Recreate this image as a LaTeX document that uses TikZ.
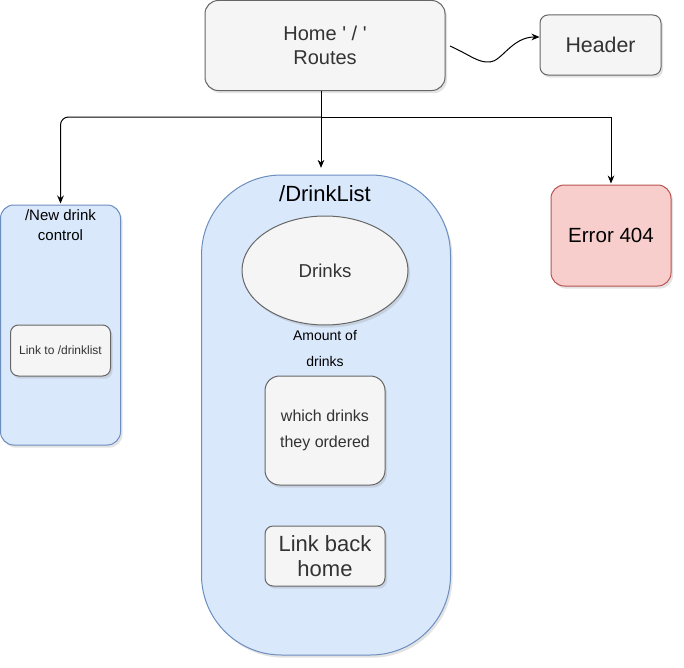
\documentclass[tikz,border=0pt]{standalone}
\usepackage{fontspec}
\setmainfont{Liberation Sans}
\usetikzlibrary{arrows.meta,shapes.geometric,shadows}

\definecolor{greyfill}{HTML}{F5F5F5}
\definecolor{greyline}{HTML}{666666}
\definecolor{greytext}{HTML}{333333}
\definecolor{bluefill}{HTML}{DAE8FC}
\definecolor{blueline}{HTML}{6C8EBF}
\definecolor{redfill}{HTML}{F8CECC}
\definecolor{redline}{HTML}{B85450}

\begin{document}
\begin{tikzpicture}[
    x=0.75pt, y=-0.75pt,
    box/.style={draw, line width=0.75pt, align=center, inner sep=0pt,
                drop shadow={shadow xshift=1.5pt, shadow yshift=-2pt,
                             opacity=0.22}},
    greybox/.style={box, draw=greyline, fill=greyfill, text=greytext},
    bluebox/.style={box, draw=blueline, fill=bluefill},
    redbox/.style={box, draw=redline, fill=redfill},
    caption/.style={align=center, inner sep=0pt},
    link/.style={-{Stealth[length=6pt, width=5pt]}, line width=0.75pt},
]
\useasboundingbox (0,0) rectangle (684,667);

% Top row
\node[greybox, minimum width=180pt, minimum height=67.5pt,
      rounded corners=10pt, font=\fontsize{15}{18}\selectfont]
      (home) at (325,45.5) {Home \textquotesingle\ / \textquotesingle\\Routes};
\node[greybox, minimum width=90.75pt, minimum height=45pt,
      rounded corners=6pt, font=\fontsize{16}{19}\selectfont]
      (header) at (600.5,45) {Header};

% Left route
\node[bluebox, minimum width=90pt, minimum height=180pt,
      rounded corners=10pt] (newdrink) at (60.5,325) {};
\node[caption, font=\fontsize{11.25}{15}\selectfont]
      (newdrinktitle) at (60.5,225) {/New drink\\control};
\node[greybox, minimum width=75pt, minimum height=38.25pt,
      rounded corners=6pt, font=\fontsize{9}{11}\selectfont]
      (linkto) at (60.5,350.5) {Link to /drinklist};

% Middle route -- big container
\node[bluebox, minimum width=186.75pt, minimum height=360pt,
      rounded corners=60pt] (drinklist) at (326,415) {};
\node[caption, font=\fontsize{16.5}{20}\selectfont]
      (drinklisttitle) at (325,194) {/DrinkList};
\node[greybox, ellipse, minimum width=124.5pt, minimum height=81.75pt,
      font=\fontsize{14}{17}\selectfont] (drinks) at (325,270.5) {Drinks};
\node[caption, font=\fontsize{10.5}{19.5}\selectfont]
      (amount) at (325,348) {Amount of\\drinks};
\node[greybox, minimum width=90pt, minimum height=81.75pt,
      rounded corners=11pt, font=\fontsize{12}{19.5}\selectfont]
      (ordered) at (325,430.5) {which drinks\\they ordered};
\node[greybox, minimum width=90pt, minimum height=45pt,
      rounded corners=6pt, font=\fontsize{16.5}{19}\selectfont]
      (backhome) at (325,556) {Link back\\home};

% Right route
\node[redbox, minimum width=90pt, minimum height=75.75pt,
      rounded corners=10pt, font=\fontsize{15.4}{18}\selectfont]
      (error) at (611,235.5) {Error 404};

% Connectors
\coordinate (fork) at (321,117);
\coordinate (hstart) at (450,46);
\draw[link, shorten >=5pt] ([xshift=-3pt]home.south)
      -- ([xshift=-3.75pt]drinklist.north);
\draw[link, rounded corners=6pt, shorten >=0.75pt] (fork) -| (newdrink.north);
\draw[link, shorten >=0.75pt] (fork) -| (error.north);
\draw[link] (hstart) .. controls (470,55) and (478,63) .. (490,62)
      .. controls (502,61) and (512,37) .. ([yshift=6pt]header.west);

\end{tikzpicture}
\end{document}
